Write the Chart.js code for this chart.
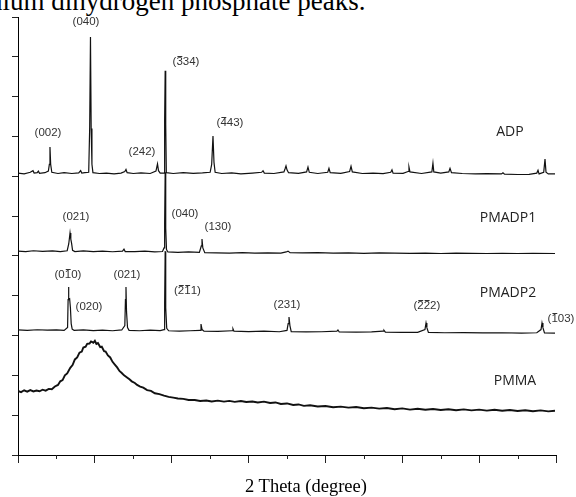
<!DOCTYPE html>
<html>
<head>
<meta charset="utf-8">
<script src="https://cdn.jsdelivr.net/npm/chart.js@4.4.0/dist/chart.umd.min.js"></script>
<style>
  html, body { margin: 0; padding: 0; background: #fff; }
  #wrap { position: relative; width: 576px; height: 497px; overflow: hidden; }
  #caption {
    position: absolute; left: -11px; top: -12px;
    font-family: "Liberation Serif", "Times New Roman", serif;
    font-size: 27px; line-height: 27px; white-space: nowrap; color: #000;
  }
  #xtitle {
    position: absolute; left: 206px; width: 200px; top: 475px; text-align: center;
    font-family: "Liberation Serif", "Times New Roman", serif;
    font-size: 18.5px; line-height: 22px; white-space: nowrap; color: #000;
  }
  #xrd { position: absolute; left: 0; top: 0; }
</style>
</head>
<body>
<div id="wrap">
  <div id="caption">nium dihydrogen phosphate peaks.</div>
  <canvas id="xrd" width="576" height="497"></canvas>
  <div id="xtitle">2 Theta (degree)</div>
</div>
<script>
// XRD patterns, stacked with vertical offsets (x = 2 theta in degrees, y = counts + offset)
const adpPoints = [
  [10.0,7080],[10.8,7060],[11.6,7100],[11.95,7140],[12.1,7080],[12.5,7090],[12.65,7130],[12.8,7075],
  [13.5,7090],[13.95,7130],[14.08,7300],[14.16,7735],[14.25,7300],[14.4,7100],[15.2,7070],[16.0,7090],
  [17.0,7070],[17.9,7085],[18.15,7140],[18.3,7080],[18.7,7090],[19.2,7100],[19.33,8250],[19.43,10500],
  [19.52,8200],[19.62,7300],[19.75,7090],[20.6,7070],[21.5,7080],[22.5,7060],[23.4,7080],[23.9,7120],
  [24.05,7170],[24.2,7090],[25.0,7070],[26.0,7085],[27.2,7070],[27.95,7130],[28.15,7310],[28.28,7140],
  [28.5,7080],[29.0,7080],[29.08,8400],[29.15,9650],[29.22,8300],[29.3,7090],[30.2,7070],[31.5,7090],
  [32.8,7075],[34.0,7085],[35.0,7100],[35.2,7300],[35.37,8010],[35.5,7350],[35.65,7100],[36.5,7070],
  [37.8,7085],[39.0,7060],[40.5,7080],[41.7,7100],[41.88,7140],[42.05,7080],[43.3,7070],[44.6,7110],
  [44.75,7190],[44.87,7260],[45.0,7160],[45.2,7090],[46.5,7075],[47.55,7110],[47.73,7230],[47.9,7100],
  [49.0,7070],[50.3,7100],[50.46,7200],[50.62,7090],[52.0,7075],[53.15,7120],[53.33,7250],[53.5,7110],
  [54.8,7070],[56.2,7080],[57.5,7065],[58.5,7100],[58.66,7160],[58.8,7080],[60.1,7075],[60.75,7120],
  [60.87,7230],[61.0,7110],[62.5,7070],[63.85,7110],[63.99,7330],[64.1,7110],[65.0,7080],[66.05,7110],
  [66.21,7200],[66.4,7090],[67.8,7070],[69.5,7060],[71.0,7065],[72.9,7060],[73.1,7090],[73.3,7055],
  [75.0,7045],[76.5,7050],[77.5,7080],[77.66,7150],[77.8,7060],[78.4,7100],[78.57,7430],[78.7,7100],
  [79.0,7060],[79.87,7060]
];
const pmadp1Points = [
  [10.0,5120],[11.0,5110],[12.0,5130],[13.2,5115],[14.5,5125],[15.5,5110],[16.4,5130],[16.6,5300],
  [16.77,5575],[16.87,5420],[16.97,5320],[17.1,5140],[17.4,5110],[18.5,5125],[19.8,5110],[21.0,5120],
  [22.3,5105],[23.6,5120],[23.79,5170],[23.95,5110],[25.2,5110],[26.5,5120],[27.8,5100],[28.8,5110],
  [29.0,5200],[29.08,5800],[29.15,7100],[29.22,5700],[29.32,5160],[29.5,5100],[30.8,5090],[32.2,5100],
  [33.6,5090],[33.85,5250],[33.94,5425],[34.05,5200],[34.3,5080],[35.8,5075],[37.5,5070],[39.2,5080],
  [40.8,5070],[42.5,5075],[44.2,5070],[44.9,5100],[45.13,5120],[45.4,5080],[47.0,5075],[49.0,5080],
  [51.0,5070],[53.0,5075],[55.0,5065],[57.0,5075],[59.0,5070],[61.0,5065],[63.0,5070],[65.0,5060],
  [67.0,5070],[69.0,5065],[71.0,5060],[73.0,5065],[75.0,5060],[77.0,5065],[79.87,5060]
];
const pmadp2Points = [
  [10.0,3140],[11.2,3130],[12.5,3145],[13.8,3135],[15.0,3140],[16.0,3130],[16.45,3200],[16.52,3900],
  [16.57,4220],[16.62,3900],[16.72,3920],[16.82,3700],[16.92,3300],[17.05,3160],[17.3,3130],[18.5,3140],
  [19.8,3125],[21.0,3135],[22.3,3120],[23.5,3140],[23.9,3250],[23.98,3900],[24.05,4220],[24.12,3600],
  [24.25,3200],[24.45,3130],[25.8,3120],[27.2,3135],[28.5,3125],[29.0,3150],[29.08,3800],[29.15,5120],
  [29.22,3700],[29.35,3180],[29.6,3120],[31.0,3110],[32.4,3120],[33.7,3130],[33.81,3290],[33.95,3150],
  [34.2,3110],[36.0,3105],[37.85,3120],[37.97,3170],[38.1,3110],[40.0,3100],[42.0,3110],[44.0,3095],
  [45.0,3130],[45.15,3300],[45.26,3466],[45.38,3250],[45.55,3100],[47.5,3090],[49.5,3095],[51.5,3110],
  [51.63,3140],[51.8,3090],[54.0,3085],[56.0,3090],[57.5,3110],[57.62,3130],[57.8,3085],[60.0,3080],
  [62.0,3080],[62.95,3150],[63.09,3315],[63.2,3200],[63.4,3080],[65.5,3070],[68.0,3075],[70.5,3065],
  [73.0,3070],[75.5,3060],[77.5,3070],[78.05,3150],[78.18,3315],[78.3,3200],[78.5,3065],[79.87,3060]
];
const pmmaPoints = [
  [10.0,1610],[10.4,1580],[10.8,1625],[11.2,1590],[11.6,1630],[12.0,1595],[12.4,1620],[12.8,1600],
  [13.2,1640],[13.6,1615],[14.0,1660],[14.4,1650],[14.8,1720],[15.2,1760],[15.5,1850],[15.8,1880],
  [16.1,2000],[16.4,2050],[16.8,2190],[17.1,2260],[17.4,2400],[17.7,2450],[18.0,2570],[18.3,2600],
  [18.5,2700],[18.8,2720],[19.0,2790],[19.3,2800],[19.5,2850],[19.8,2820],[20.0,2870],[20.2,2790],
  [20.4,2810],[20.7,2710],[20.9,2720],[21.2,2610],[21.4,2600],[21.7,2500],[22.0,2450],[22.3,2340],
  [22.6,2270],[22.9,2200],[23.2,2110],[23.5,2060],[23.8,2000],[24.1,1960],[24.5,1900],[24.8,1850],
  [25.2,1810],[25.5,1760],[25.9,1720],[26.3,1690],[26.8,1630],[27.3,1610],[27.8,1550],[28.4,1530],
  [29.0,1490],[29.6,1460],[30.2,1440],[30.8,1420],[31.5,1410],[32.2,1380],[33.0,1380],[33.7,1355],
  [34.5,1370],[35.2,1345],[36.0,1365],[36.8,1340],[37.5,1360],[38.2,1335],[39.0,1355],[39.7,1330],
  [40.5,1345],[41.2,1320],[42.0,1340],[42.8,1305],[43.5,1320],[44.2,1280],[45.0,1295],[45.8,1255],
  [46.5,1270],[47.2,1235],[48.0,1250],[49.0,1220],[50.0,1230],[51.0,1200],[52.0,1215],[53.0,1190],
  [54.0,1205],[55.0,1175],[56.0,1190],[57.0,1165],[58.0,1180],[59.0,1150],[60.0,1170],[61.0,1140],
  [62.0,1160],[63.0,1135],[64.0,1155],[65.0,1130],[66.0,1150],[67.0,1125],[68.0,1145],[69.0,1120],
  [70.0,1140],[71.0,1115],[72.0,1135],[73.0,1110],[74.0,1130],[75.0,1105],[76.0,1125],[77.0,1100],
  [78.0,1120],[79.0,1095],[79.87,1110]
];

// Miller index annotations; a "~" marks that the next digit carries an overbar
const hklText = ['(040)','(~334)','(002)','(242)','(~443)',
                 '(021)','(040)','(130)',
                 '(0~10)','(020)','(021)','(~2~11)','(231)','(~2~22)','(~103)'];
const hklX = [18.85, 31.86, 13.9, 26.13, 37.58,
              17.55, 31.73, 36.02,
              16.5, 19.24, 24.18, 31.99, 45.0, 63.2, 80.65];
const hklY = [10874, 9870, 8087, 7610, 8338,
              5977, 6052, 5726,
              4520, 3717, 4520, 4119, 3767, 3742, 3415];

// Sample names at the right
const sampleNames = ['ADP', 'PMADP1', 'PMADP2', 'PMMA'];
const sampleX = [74.0, 73.75, 73.75, 74.66];
const sampleY = [8112, 5952, 4068, 1858];

const xMin = 10, xMax = 80, xMajor = 10, xMinor = 5;
const yMin = 0, yMax = 11000, yStep = 1000;

function toXY(arr) {
    return arr.map(p => ({ x: p[0], y: p[1] }));
}

// draw "(~334)" style text centred at (cx, cy) with bars over the marked digits
function drawHkl(ctx, text, cx, cy, size) {
    const chars = [];
    let bar = false;
    for (const c of text) {
        if (c === '~') { bar = true; continue; }
        chars.push({ c: c, bar: bar });
        bar = false;
    }
    const plain = chars.map(o => o.c).join('');
    let x = cx - ctx.measureText(plain).width / 2;
    ctx.textAlign = 'left';
    chars.forEach(o => {
        const w = ctx.measureText(o.c).width;
        ctx.fillText(o.c, x, cy);
        if (o.bar) {
            const by = Math.round(cy - size * 0.52) + 0.5;
            ctx.beginPath();
            ctx.moveTo(x + 1, by);
            ctx.lineTo(x + w - 0.5, by);
            ctx.stroke();
        }
        x += w;
    });
}

const annotatePlugin = {
    id: 'annotate',
    afterDraw(chart) {
        const ctx = chart.ctx;
        const xs = chart.scales.x, ys = chart.scales.y;
        ctx.save();

        // minor ticks on the 2 theta axis
        ctx.strokeStyle = '#222';
        ctx.lineWidth = 1;
        for (let v = xMin + xMinor; v < xMax; v += xMajor) {
            const px = Math.round(xs.getPixelForValue(v)) + 0.5;
            ctx.beginPath();
            ctx.moveTo(px, ys.bottom);
            ctx.lineTo(px, ys.bottom + 4);
            ctx.stroke();
        }

        ctx.textBaseline = 'middle';
        ctx.fillStyle = '#333';
        ctx.strokeStyle = '#333';
        ctx.lineWidth = 1;
        ctx.font = '11.5px "Liberation Sans", Arial, sans-serif';
        hklText.forEach((t, i) => {
            drawHkl(ctx, t, xs.getPixelForValue(hklX[i]), ys.getPixelForValue(hklY[i]), 11.5);
        });

        ctx.textAlign = 'center';
        ctx.fillStyle = '#222';
        ctx.font = '14px "Open Sans", "Liberation Sans", sans-serif';
        sampleNames.forEach((t, i) => {
            ctx.fillText(t, xs.getPixelForValue(sampleX[i]), ys.getPixelForValue(sampleY[i]));
        });
        ctx.restore();
    }
};

function makeSet(label, points, width) {
    return {
        label: label,
        data: toXY(points),
        showLine: true,
        borderColor: '#111',
        borderWidth: width,
        pointRadius: 0,
        tension: 0
    };
}

new Chart(document.getElementById('xrd'), {
    type: 'scatter',
    data: {
        datasets: [
            makeSet('ADP', adpPoints, 1.2),
            makeSet('PMADP1', pmadp1Points, 1.2),
            makeSet('PMADP2', pmadp2Points, 1.2),
            makeSet('PMMA', pmmaPoints, 1.9)
        ]
    },
    options: {
        responsive: false,
        animation: false,
        layout: { padding: { top: 17, right: 20, left: 12, bottom: 34 } },
        plugins: { legend: { display: false }, tooltip: { enabled: false } },
        scales: {
            x: {
                type: 'linear', min: xMin, max: xMax,
                ticks: { display: false, stepSize: xMajor },
                grid: { drawOnChartArea: false, drawTicks: true, tickLength: 8, tickColor: '#222' },
                border: { color: '#000', width: 1 }
            },
            y: {
                min: yMin, max: yMax,
                ticks: { display: false, stepSize: yStep },
                grid: { drawOnChartArea: false, drawTicks: true, tickLength: 6, tickColor: '#222' },
                border: { color: '#000', width: 1 }
            }
        }
    },
    plugins: [annotatePlugin]
});
</script>
</body>
</html>
